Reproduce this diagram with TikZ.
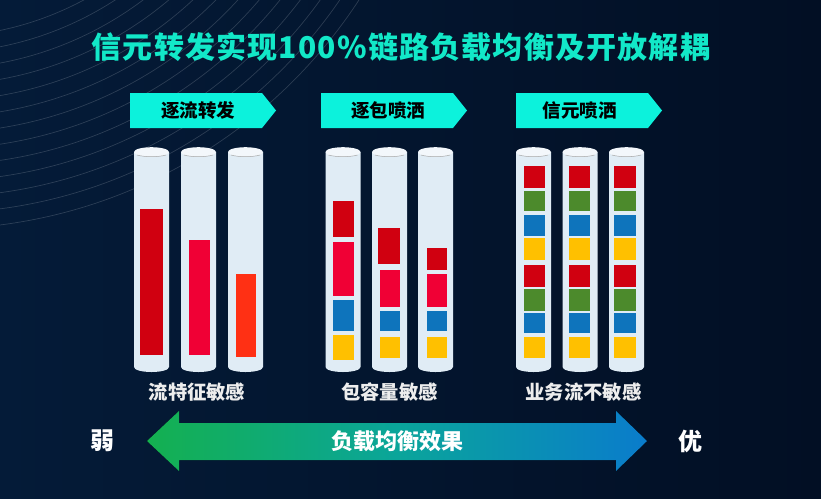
\documentclass[tikz,border=0pt]{standalone}
\usepackage{fontspec}
\newfontfamily\cjk{Noto Sans CJK SC}
\definecolor{bgl}{HTML}{041B38}
\definecolor{bgr}{HTML}{020F24}
\definecolor{cyanb}{HTML}{0CF2DC}
\definecolor{titlec}{HTML}{12E8C8}
\definecolor{tubec}{HTML}{E0ECF5}
\definecolor{redd}{HTML}{D00010}
\definecolor{redc}{HTML}{F00035}
\definecolor{redo}{HTML}{FF3014}
\definecolor{blu}{HTML}{0E74BC}
\definecolor{yel}{HTML}{FFC000}
\definecolor{grn}{HTML}{4C8A2C}
\definecolor{arrg}{HTML}{14B050}
\definecolor{arrm}{HTML}{0AA59A}
\definecolor{arrb}{HTML}{0A7CCC}
\tikzset{
  x=1pt,y=-1pt,
  bgline/.style={draw=white,opacity=.16,line width=.7pt},
  banner/.style={font=\cjk\bfseries\fontsize{18.5}{18.5}\selectfont,text=black},
  caption/.style={font=\cjk\bfseries\fontsize{19.3}{19.3}\selectfont,text=white!93!black},
  endlabel/.style={font=\cjk\bfseries\fontsize{24}{24}\selectfont,text=white},
}
\newcommand{\tube}[1]{%
  \fill[tubec] (#1,152) -- (#1+35,152) -- (#1+35,367)
     .. controls (#1+35,370) and (#1+27,372) .. (#1+17.5,372)
     .. controls (#1+8,372) and (#1,370) .. (#1,367) -- cycle;
  \fill[white!60!tubec] (#1+17.5,152) ellipse [x radius=17.5, y radius=4.8];
  \draw[black!35,line width=.5pt] (#1+3,155) .. controls (#1+10,157.2) and (#1+25,157.2) .. (#1+32,155);
}
\newcommand{\cellbar}[5]{\fill[#5] (#1,#3) rectangle (#2,#4);}
\newcommand{\bannershape}[1]{\fill[cyanb] (#1,93) -- (#1+132,93) -- (#1+146,110.5) -- (#1+132,128) -- (#1,128) -- cycle;}
\begin{document}
\begin{tikzpicture}
\useasboundingbox (0,0) rectangle (821,498);
\fill[left color=bgl,right color=bgr] (0,0) rectangle (821,498);
% background arcs
\begin{scope}
\clip (0,0) rectangle (821,498);
\foreach \r in {313,329,...,505}
  \draw[bgline] (-64,-276) circle [radius=\r];
\end{scope}
% banners
\bannershape{130}\bannershape{321}\bannershape{516}
\node[banner] (b1) at (198,110) {逐流转发};
\node[banner] (b2) at (388,110) {逐包喷洒};
\node[banner] (b3) at (579.5,110) {信元喷洒};
% title
\node[font=\cjk\bfseries\fontsize{30}{30}\selectfont\addfontfeature{LetterSpace=4},text=titlec] (title) at (401,47) {信元转发实现100\%链路负载均衡及开放解耦};
% tubes
\foreach \x in {134,181,228,325.5,372,418,516,562.5,609} {\tube{\x}}
% group 1
\cellbar{140}{162.5}{209}{355}{redd}
\cellbar{189}{210}{240}{355}{redc}
\cellbar{236}{256}{274}{357}{redo}
% group 2
\cellbar{333}{354}{201}{237}{redd}
\cellbar{333}{354}{242}{296}{redc}
\cellbar{333}{354}{300}{331}{blu}
\cellbar{333}{354}{335}{360}{yel}
\cellbar{378}{400}{227.5}{264}{redd}
\cellbar{380}{400}{270}{307}{redc}
\cellbar{380}{400}{311}{331}{blu}
\cellbar{380}{400}{337}{358}{yel}
\cellbar{427}{447}{248}{270}{redd}
\cellbar{427}{447}{274}{307}{redc}
\cellbar{427}{447}{311}{331}{blu}
\cellbar{427}{447}{337}{358}{yel}
% group 3
\foreach \a/\b in {524/544.5,569/589.5,613.5/636} {
  \cellbar{\a}{\b}{166}{187.5}{redd}
  \cellbar{\a}{\b}{191}{211}{grn}
  \cellbar{\a}{\b}{215}{236}{blu}
  \cellbar{\a}{\b}{238}{260}{yel}
  \cellbar{\a}{\b}{265}{287}{redd}
  \cellbar{\a}{\b}{288.5}{311}{grn}
  \cellbar{\a}{\b}{313}{333}{blu}
  \cellbar{\a}{\b}{337}{358}{yel}
}
% captions
\node[caption] (c1) at (197,392) {流特征敏感};
\node[caption] (c2) at (389.5,392) {包容量敏感};
\node[caption] (c3) at (583.5,392) {业务流不敏感};
% double arrow
\fill[left color=arrg, right color=arrb, middle color=arrm]
  (147,441) -- (179,411) -- (179,423) -- (616,423) -- (616,411) -- (647,441)
  -- (616,471) -- (616,460) -- (179,460) -- (179,471) -- cycle;
\node[font=\cjk\bfseries\fontsize{22}{22}\selectfont,text=white] (mid) at (397,441) {负载均衡效果};
\node[endlabel] (weak) at (102,441) {弱};
\node[endlabel] (good) at (690,441) {优};
\end{tikzpicture}
\end{document}
